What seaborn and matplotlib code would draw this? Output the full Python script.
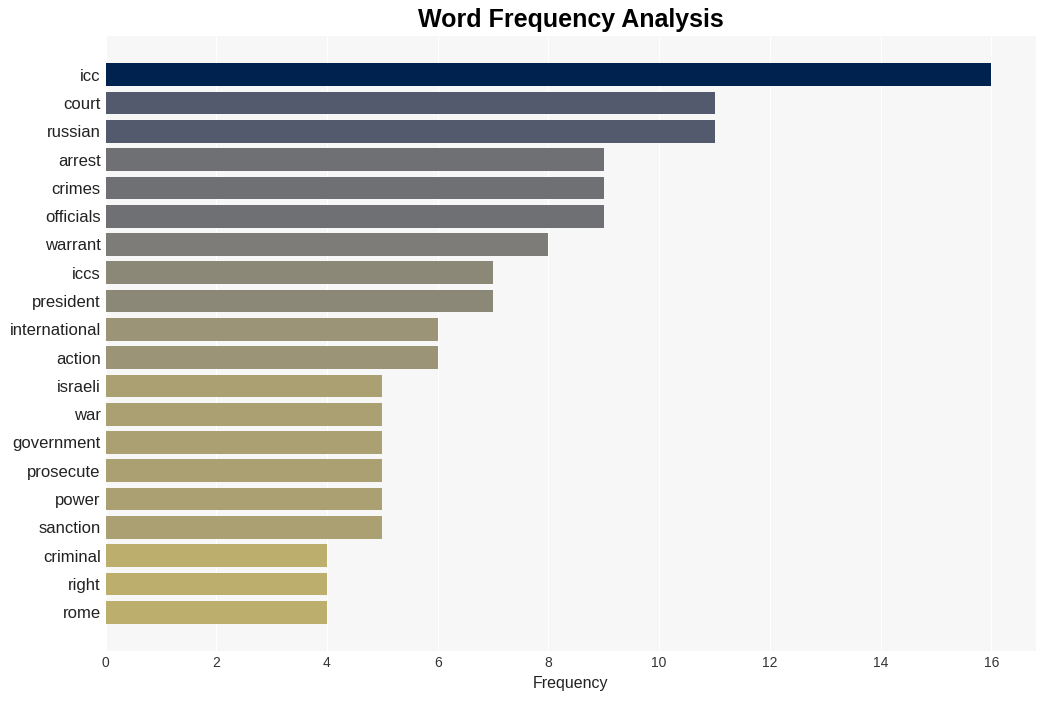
import matplotlib
matplotlib.use("Agg")
import matplotlib.pyplot as plt
import seaborn as sns
import pandas as pd

# word counts
words = ["icc", "court", "russian", "arrest", "crimes", "officials", "warrant",
         "iccs", "president", "international", "action", "israeli", "war",
         "government", "prosecute", "power", "sanction", "criminal", "right", "rome"]
counts = [16, 11, 11, 9, 9, 9, 8, 7, 7, 6, 6, 5, 5, 5, 5, 5, 5, 4, 4, 4]

df = pd.DataFrame({"word": words, "count": counts})

sns.set_style("darkgrid", {"axes.facecolor": "#f7f7f7", "grid.color": "white"})
plt.rcParams["font.family"] = ["Liberation Sans", "DejaVu Sans"]

# colour by count, darker = more frequent
top = max(counts)
palette = [plt.cm.cividis(1 - c / top) for c in counts]

fig, ax = plt.subplots(figsize=(10.45, 7.01), dpi=100)
sns.barplot(data=df, x="count", y="word", hue="word", palette=palette,
            legend=False, width=0.8, saturation=1, linewidth=0, ax=ax)

ax.set_xlim(0, top * 1.05)
ax.set_ylim(len(words) - 1 + 1.38, -1.38)
ax.set_title("Word Frequency Analysis", fontsize=18, fontweight="bold", color="black")
ax.set_xlabel("Frequency", fontsize=11.5, color="#222222")
ax.set_ylabel("")
ax.tick_params(axis="y", labelsize=12, colors="#222222", length=0)
ax.tick_params(axis="x", labelsize=10, colors="#333333", length=0)
for s in ax.spines.values():
    s.set_visible(False)

plt.subplots_adjust(left=0.101, right=0.991, top=0.949, bottom=0.071)
plt.savefig("out.png", dpi=100)
